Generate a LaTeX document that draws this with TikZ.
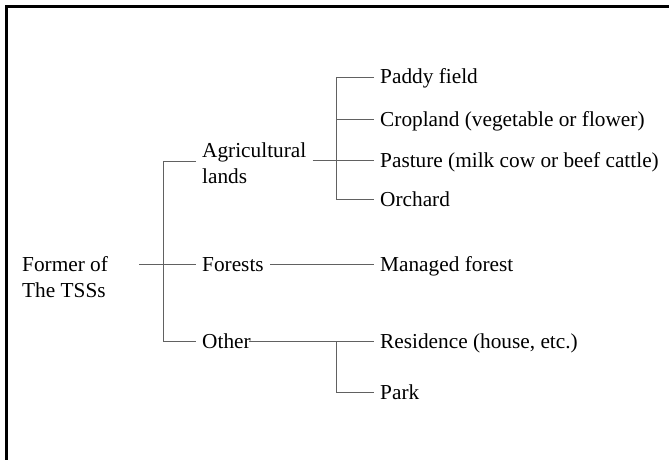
\documentclass[tikz,border=0pt]{standalone}
\usepackage{fontspec}
\setmainfont{Liberation Serif}
\usetikzlibrary{positioning,calc}

\begin{document}
\begin{tikzpicture}[
  x=1pt, y=-1pt, font=\fontsize{21.3}{26}\selectfont,
  item/.style={anchor=west, inner ysep=0pt, inner xsep=6pt, text height=16pt, text depth=2pt},
  pair/.style={anchor=west, inner ysep=0pt, inner xsep=6pt, align=left},
  conn/.style={draw=black!62, line width=0.9pt},
  frame/.style={draw=black, line width=3pt}]
  \useasboundingbox (0,0) rectangle (669,460);
  \draw[frame] (6.5,460) -- (6.5,6.5) -- (669,6.5);
  % root and first level
  \node[pair] (root) at (16,277) {Former of\\The TSSs};
  \node[pair] (agri) at (196,163) {Agricultural\\lands};
  \node[item] (forests) at (196,264) {Forests};
  \node[item] (other) at (196,341) {Other};
  % second level
  \node[item] (paddy) at (374,77) {Paddy field};
  \node[item] (crop) at (374,119) {Cropland (vegetable or flower)};
  \node[item] (pasture) at (374,160) {Pasture (milk cow or beef cattle)};
  \node[item] (orchard) at (374,199) {Orchard};
  \node[item] (managed) at (374,264) {Managed forest};
  \node[item] (resid) at (374,341) {Residence (house, etc.)};
  \node[item] (park) at (374,392) {Park};
  % bracket spines
  \coordinate (s1top) at (163,161);
  \coordinate (s1bot) at (163,341);
  \coordinate (s1in) at (139,264);
  \coordinate (s2top) at (336,77);
  \coordinate (s2bot) at (336,199);
  \coordinate (s3top) at (336,341);
  \coordinate (s3bot) at (336,392);
  % first bracket
  \draw[conn] (s1in) -- (forests.west);
  \draw[conn] (agri.west |- s1top) -- (s1top) -- (s1bot) -- (other.west);
  % agricultural lands
  \draw[conn] (agri.east |- pasture) -- (pasture.west);
  \draw[conn] (paddy.west) -- (s2top) -- (s2bot) -- (orchard.west);
  \draw[conn] (s2top |- crop) -- (crop.west);
  % forests
  \draw[conn] (forests.east) -- (managed.west);
  % other
  \draw[conn, shorten <=-8pt] (other.east) -- (resid.west);
  \draw[conn] (s3top) -- (s3bot) -- (park.west);
\end{tikzpicture}
\end{document}
